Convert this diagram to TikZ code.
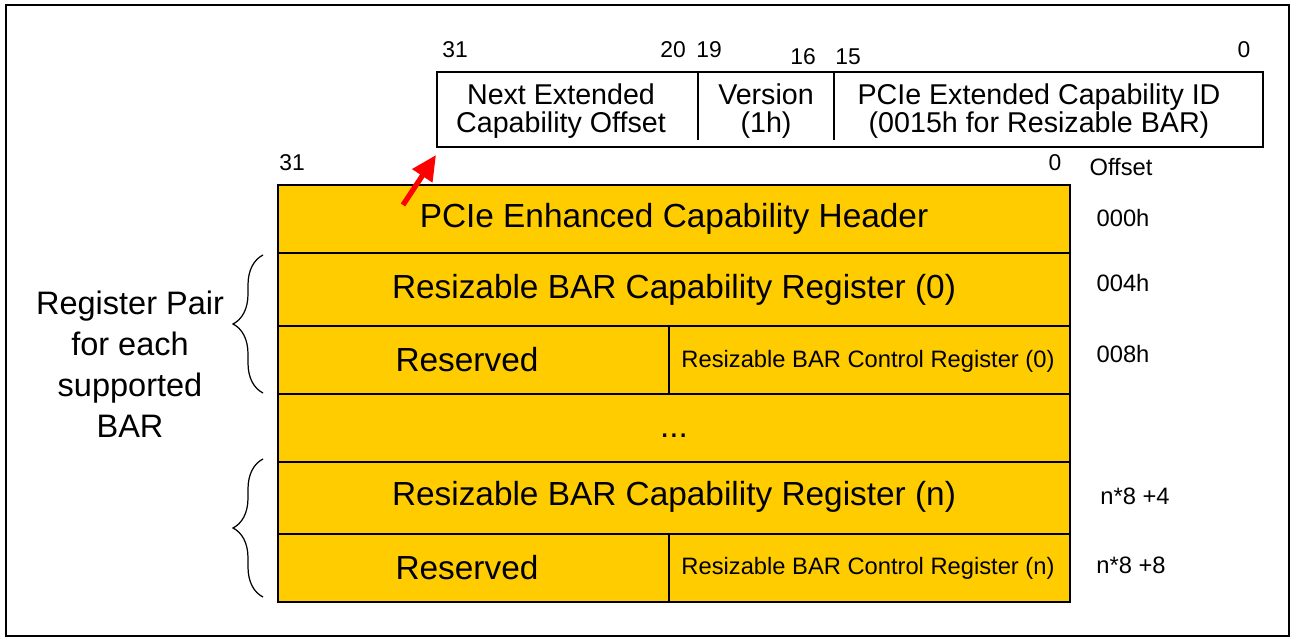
\documentclass[tikz,border=0pt]{standalone}
\usepackage{fontspec}
\setmainfont{Liberation Sans}
\usetikzlibrary{arrows.meta,decorations.pathreplacing}
\definecolor{regyellow}{RGB}{255,204,0}

\begin{document}
\begin{tikzpicture}[x=0.02cm,y=-0.02cm,
    bigtxt/.style={font=\fontsize{19}{23}\selectfont},
    hdrtxt/.style={font=\fontsize{16.3}{15.5}\selectfont, align=center},
    smalltxt/.style={font=\fontsize{13.5}{16}\selectfont},
    bittxt/.style={font=\fontsize{13}{15}\selectfont},
    regbrace/.style={decorate, decoration={brace, amplitude=0.6cm}, line width=0.7pt}]
    \useasboundingbox (0,0) rectangle (1297,641);
    % outer frame
    \draw[line width=1pt] (6,5) rectangle (1289,636);

    % extended capability header layout (top)
    \coordinate (capNW) at (437,72);
    \coordinate (capSE) at (1263,147);
    \draw[line width=1.1pt] (capNW) rectangle (capSE);
    \draw[line width=1.1pt] (698,72) -- (698,140);
    \draw[line width=1.1pt] (834,72) -- (834,140);
    \node[bittxt] (b31) at (455,50) {31};
    \node[bittxt] (b20) at (673,50) {20};
    \node[bittxt] (b19) at (709,50) {19};
    \node[bittxt] (b16) at (803,57) {16};
    \node[bittxt] (b15) at (848,57) {15};
    \node[bittxt] (b0) at (1244,50) {0};
    \node[hdrtxt] (nextcap) at (561,111) {Next Extended\\Capability Offset};
    \node[hdrtxt] (version) at (766,111) {Version\\(1h)};
    \node[hdrtxt] (capid) at (1039,111) {PCIe Extended Capability ID\\(0015h for Resizable BAR)};

    % register stack
    \filldraw[fill=regyellow, line width=1.2pt] (278,185) rectangle (1070,602);
    \foreach \y in {253,326,394,462,534}
        \draw[line width=1.2pt] (278,\y) -- (1070,\y);
    \draw[line width=1.2pt] (669,326) -- (669,394);
    \draw[line width=1.2pt] (669,534) -- (669,602);
    \node[bittxt] (s31) at (292,163) {31};
    \node[bittxt] (s0) at (1055,163) {0};

    \node[bigtxt] (enhhdr) at (674,219) {PCIe Enhanced Capability Header};
    \node[bigtxt] (capreg0) at (674,290) {Resizable BAR Capability Register (0)};
    \node[bigtxt] (resv0) at (467,360) {Reserved};
    \node[smalltxt] (ctlreg0) at (868,361) {Resizable BAR Control Register (0)};
    \node[bigtxt] (dots) at (674,436) {...};
    \node[bigtxt] (capregn) at (674,497) {Resizable BAR Capability Register (n)};
    \node[bigtxt] (resvn) at (467,568) {Reserved};
    \node[smalltxt] (ctlregn) at (868,568) {Resizable BAR Control Register (n)};

    % red arrow to the header layout (drawn over the stack)
    \coordinate (arrowtail) at (403,205);
    \coordinate (arrowtip) at (436,155);
    \draw[red, line width=3pt, -{Triangle[length=0.5cm,width=0.46cm]}] (arrowtail) -- (arrowtip);

    % offsets
    \node[smalltxt] (offset) at (1121,167) {Offset};
    \node[smalltxt] (off0) at (1123,218) {000h};
    \node[smalltxt] (off4) at (1123,283) {004h};
    \node[smalltxt] (off8) at (1123,354) {008h};
    \node[smalltxt] (offn4) at (1135,496) {n*8 +4};
    \node[smalltxt] (offn8) at (1131,565) {n*8 +8};

    % braces for the register pairs
    \coordinate (brAtop) at (263,255);
    \coordinate (brAbot) at (263,393);
    \coordinate (brBtop) at (263,459);
    \coordinate (brBbot) at (263,597);
    \draw[regbrace] (brAbot) -- (brAtop);
    \draw[regbrace] (brBbot) -- (brBtop);
    \node[bigtxt, align=center, font=\fontsize{18.5}{23.3}\selectfont] (pairtxt) at (130,364) {Register Pair\\for each\\supported\\BAR};
\end{tikzpicture}
\end{document}
